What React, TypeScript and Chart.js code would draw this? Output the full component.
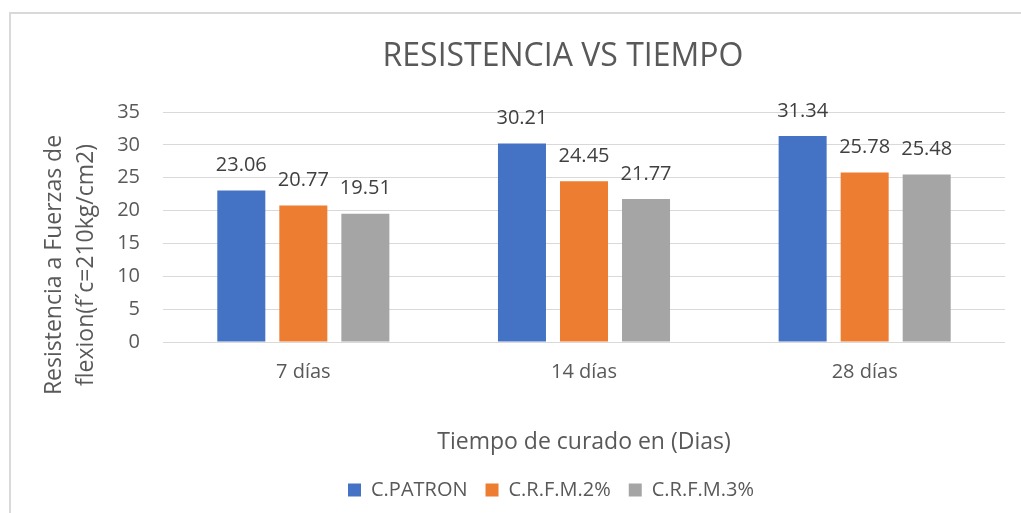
import React, { useEffect, useRef } from "react";
import { Chart, registerables } from "chart.js";

Chart.register(...registerables);

const categories = ["7 días", "14 días", "28 días"];
const seriesNames = ["C.PATRON", "C.R.F.M.2%", "C.R.F.M.3%"];
const patronValues = [23.06, 30.21, 31.34];
const crfm2Values = [20.77, 24.45, 25.78];
const crfm3Values = [19.51, 21.77, 25.48];
const seriesColors = ["#4472C4", "#ED7D31", "#A5A5A5"];
const yMin = 0;
const yMax = 35;
const yStep = 5;
const chartTitle = "RESISTENCIA VS TIEMPO";
const yTitleLines = ["Resistencia a Fuerzas de", "flexion(f´c=210kg/cm2)"];
const xTitle = "Tiempo de curado en (Dias)";

const FONT = "'Open Sans', 'Noto Sans', sans-serif";
const TEXT = "#595959";

const valueLabels = {
  id: "valueLabels",
  afterDatasetsDraw(chart: any) {
    const ctx = chart.ctx;
    ctx.save();
    ctx.font = `20px ${FONT}`;
    ctx.fillStyle = "#404040";
    ctx.textAlign = "center";
    ctx.textBaseline = "middle";
    chart.data.datasets.forEach((ds: any, i: number) => {
      const meta = chart.getDatasetMeta(i);
      meta.data.forEach((el: any, j: number) => {
        ctx.fillText(Number(ds.data[j]).toFixed(2), el.x, el.y - 25);
      });
    });
    ctx.restore();
  },
};

const yAxisTitle = {
  id: "yAxisTitle",
  afterDraw(chart: any) {
    const ctx = chart.ctx;
    ctx.save();
    ctx.font = `23px ${FONT}`;
    ctx.fillStyle = TEXT;
    ctx.textAlign = "center";
    ctx.textBaseline = "middle";
    const cy = 251;
    const xs = [43, 75];
    yTitleLines.forEach((line, i) => {
      ctx.save();
      ctx.translate(xs[i], cy);
      ctx.rotate(-Math.PI / 2);
      ctx.fillText(line, 0, 0);
      ctx.restore();
    });
    ctx.restore();
  },
};

const shiftBoxes = {
  id: "shiftBoxes",
  afterLayout(chart: any) {
    const t = chart.titleBlock;
    const l = chart.legend;
    if (t) {
      t.left += 55;
      t.right += 55;
    }
    if (l) {
      l.left += 43;
      l.right += 43;
    }
  },
};

export default function App() {
  const ref = useRef<HTMLCanvasElement | null>(null);

  useEffect(() => {
    if (!ref.current) return;
    const chart = new Chart(ref.current, {
      type: "bar",
      data: {
        labels: categories,
        datasets: [
          { label: seriesNames[0], data: patronValues, backgroundColor: seriesColors[0], borderWidth: 0 },
          { label: seriesNames[1], data: crfm2Values, backgroundColor: seriesColors[1], borderWidth: 0 },
          { label: seriesNames[2], data: crfm3Values, backgroundColor: seriesColors[2], borderWidth: 0 },
        ],
      },
      options: {
        responsive: false,
        animation: false,
        layout: { padding: { left: 0, right: 16, top: 0, bottom: 3 } },
        datasets: {
          bar: { categoryPercentage: 0.663, barPercentage: 0.774 },
        },
        plugins: {
          title: {
            display: true,
            text: chartTitle,
            color: TEXT,
            font: { family: FONT, size: 32, weight: "normal" },
            padding: { top: 23.8, bottom: 35.8 },
          },
          legend: {
            position: "bottom",
            labels: {
              boxWidth: 13,
              boxHeight: 13,
              padding: 18,
              color: TEXT,
              font: { family: FONT, size: 20 },
            },
          },
          tooltip: { enabled: false },
        },
        scales: {
          x: {
            grid: { display: false, drawTicks: false },
            border: { display: false },
            ticks: { color: TEXT, font: { family: FONT, size: 20 }, padding: 18 },
            title: {
              display: true,
              text: xTitle,
              color: TEXT,
              font: { family: FONT, size: 23 },
              padding: { top: 26.2, bottom: 6.2 },
            },
          },
          y: {
            min: yMin,
            max: yMax,
            ticks: { stepSize: yStep, color: TEXT, font: { family: FONT, size: 20 }, padding: 23 },
            grid: { color: "#d9d9d9", lineWidth: 1, drawTicks: false },
            border: { display: false },
            afterFit(scale: any) {
              scale.width = 152;
            },
          },
        },
      },
      plugins: [valueLabels, yAxisTitle, shiftBoxes],
    });
    return () => chart.destroy();
  }, []);

  return (
    <div style={{ position: "absolute", left: 0, top: 0, width: 1021, height: 513, background: "#fff", overflow: "hidden" }}>
      <div
        style={{
          position: "absolute",
          left: 9,
          top: 12,
          width: 1012,
          height: 501,
          borderLeft: "2px solid #d9d9d9",
          borderTop: "2px solid #d9d9d9",
          boxSizing: "border-box",
        }}
      >
        <canvas ref={ref} width={1010} height={499} style={{ display: "block", width: 1010, height: 499 }} />
      </div>
    </div>
  );
}
